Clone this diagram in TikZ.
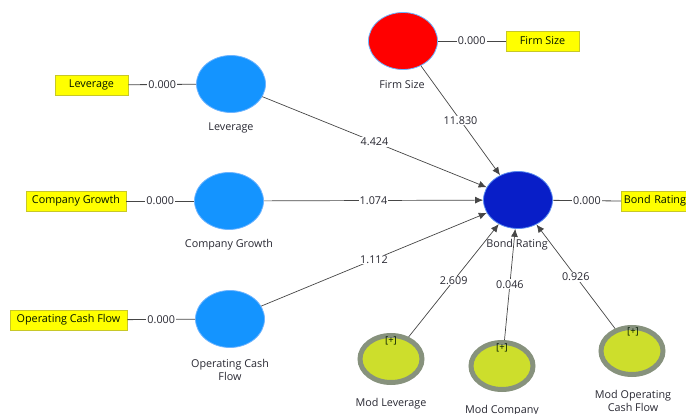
\documentclass[tikz,border=0pt]{standalone}
\usepackage{fontspec}
\setmainfont{Open Sans}
\usetikzlibrary{shapes.geometric,arrows.meta}
\definecolor{lvblue}{RGB}{20,148,255}
\definecolor{lvedge}{RGB}{110,180,255}
\definecolor{brblue}{RGB}{8,30,200}
\definecolor{bredge}{RGB}{90,140,240}
\definecolor{modfill}{RGB}{205,222,44}
\definecolor{modring}{RGB}{135,146,125}
\definecolor{boxfill}{RGB}{255,255,0}
\definecolor{boxedge}{RGB}{200,200,40}
\definecolor{linecol}{RGB}{70,70,70}
\definecolor{txt}{RGB}{40,40,50}
\tikzset{
  x=1pt, y=-1pt,
  every node/.style={font=\fontsize{10.8}{12}\selectfont, text=txt},
  latent/.style={ellipse, minimum width=69pt, minimum height=57pt, inner sep=0pt},
  lv/.style={latent, fill=lvblue, draw=lvedge, line width=0.8pt},
  modvar/.style={ellipse, minimum width=62pt, minimum height=47pt, inner sep=0pt, fill=modfill, draw=modring, line width=5pt},
  ind/.style={draw=boxedge, fill=boxfill, line width=0.8pt, minimum height=20pt, inner sep=2pt, text=black!80!green!40!black},
  indline/.style={draw=linecol, line width=0.8pt},
  path/.style={draw=linecol, line width=0.7pt, -{Latex[length=8pt,width=7pt]}},
  wlab/.style={fill=white, inner sep=1pt},
  nlab/.style={align=center, inner sep=0pt, font=\fontsize{10.8}{12.5}\selectfont},
  plus/.style={inner sep=0pt, font=\fontsize{9.5}{10}\selectfont, text=black!70!green!30!black}
}
\begin{document}
\begin{tikzpicture}
\useasboundingbox (0,0) rectangle (686,414);
% latent variables
\node[lv] (lev) at (231,84) {};
\node[lv] (cg) at (229,201) {};
\node[lv] (ocf) at (230,319) {};
\node[latent, fill=red, draw=lvedge, line width=0.8pt] (fs) at (403,41) {};
\node[latent, fill=brblue, draw=bredge, line width=0.8pt] (br) at (518,200) {};
\node[modvar] (ml) at (391,359) {};
\node[modvar] (mc) at (502,366) {};
\node[modvar] (mo) at (632,351) {};
% plus markers
\node[plus] (mlp) at (391,341) {[+]};
\node[plus] (mcp) at (502,348) {[+]};
\node[plus] (mop) at (633,332) {[+]};
% names under nodes
\node[nlab] (levn) at (231,128) {Leverage};
\node[nlab] (cgn) at (229,245) {Company Growth};
\node[nlab] (ocfn) at (230,370) {Operating Cash\\Flow};
\node[nlab] (fsn) at (402,85) {Firm Size};
\node[nlab] (brn) at (517,245) {Bond Rating};
\node[nlab] (mln) at (391,404) {Mod Leverage};
\node[nlab] (mcn) at (502,411) {Mod Company};
\node[nlab] (mon) at (633,401) {Mod Operating\\Cash Flow};
% indicator boxes
\node[ind, minimum width=73pt] (blev) at (91.5,85) {Leverage};
\node[ind, minimum width=100pt] (bcg) at (76,201) {Company Growth};
\node[ind, minimum width=117pt] (bocf) at (68.5,320) {Operating Cash Flow};
\node[ind, minimum width=73pt] (bfs) at (542.5,41) {Firm Size};
\node[ind, minimum width=80pt, anchor=west, text width=75pt, align=left] (bbr) at (621,201) {Bond Rating};
% indicator lines
\draw[indline] (blev) -- node[wlab] {0.000} (lev);
\draw[indline] (bcg) -- node[wlab] {0.000} (cg);
\draw[indline] (bocf) -- node[wlab] {0.000} (ocf);
\draw[indline] (fs) -- node[wlab] {0.000} (bfs);
\draw[indline] (br) -- node[wlab] {0.000} (bbr.west);
% structural paths
\draw[path] (lev) -- node[wlab] {4.424} (br);
\draw[path] (fs) -- node[wlab] {11.830} (br);
\draw[path] (cg) -- node[wlab] {1.074} (br);
\draw[path] (ocf) -- node[wlab] {1.112} (br);
\draw[path] (ml) -- node[wlab] {2.609} (br);
\draw[path] (mc) -- node[wlab] {0.046} (br);
\draw[path] (mo) -- node[wlab] {0.926} (br);
\end{tikzpicture}
\end{document}
